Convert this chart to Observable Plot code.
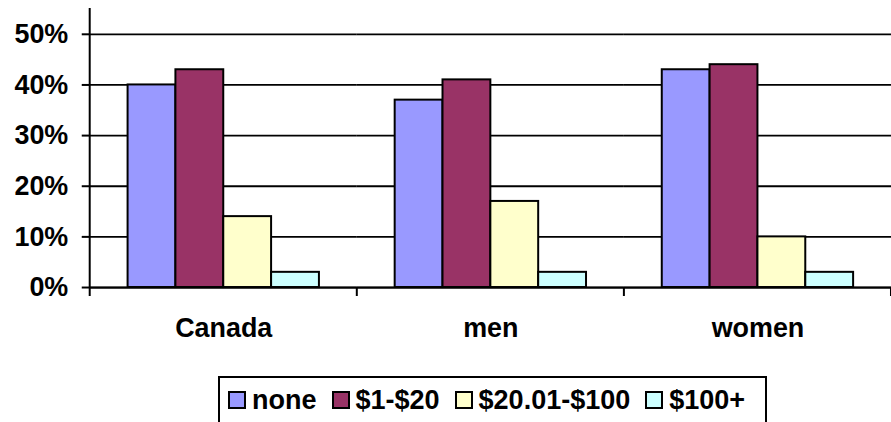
<!DOCTYPE html>
<html>
<head>
<meta charset="utf-8">
<script src="https://cdn.jsdelivr.net/npm/d3@7"></script>
<script src="https://cdn.jsdelivr.net/npm/@observablehq/plot@0.6"></script>
<style>
  html, body { margin: 0; padding: 0; background: #fff; }
  body { font-family: "Liberation Sans", Arial, sans-serif; width: 891px; height: 422px; overflow: hidden; }
  #chart { width: 891px; overflow: hidden; }
  #chart svg { display: block; }
  .legend {
    margin-left: 218px; margin-top: 17px;
    width: 545px; height: 60px;
    border: 2px solid #000; box-sizing: content-box;
    display: flex; align-items: flex-start; padding-top: 0;
    font-weight: bold; font-size: 27px; color: #000;
  }
  .legend .item { display: flex; align-items: center; margin-top: 7px; }
  .legend .sw { width: 14px; height: 14px; border: 2px solid #000; margin-right: 6px; }
</style>
</head>
<body>
<div id="chart"></div>
<script>
const categories = ["Canada", "men", "women"];
const series = ["none", "$1-$20", "$20.01-$100", "$100+"];
const valuesNone = [0.40, 0.37, 0.43];
const values1to20 = [0.43, 0.41, 0.44];
const values20to100 = [0.14, 0.17, 0.10];
const values100plus = [0.03, 0.03, 0.03];
const yTicks = [0, 0.1, 0.2, 0.3, 0.4, 0.5];
const colors = ["#9999FF", "#993366", "#FFFFCC", "#CCFFFF"];

const seriesValues = [valuesNone, values1to20, values20to100, values100plus];
const data = [];
categories.forEach((c, i) => {
  series.forEach((s, j) => data.push({category: c, series: s, value: seriesValues[j][i]}));
});

const font = "Liberation Sans, Arial, sans-serif";
const plot = Plot.plot({
  width: 894,
  height: 360,
  marginLeft: 90,
  marginRight: 0,
  marginTop: 8,
  marginBottom: 72,
  style: {fontFamily: font, color: "#000", background: "#fff"},
  fx: {domain: categories, padding: 0},
  x: {domain: series, paddingInner: 0, paddingOuter: 0.75, axis: null},
  y: {domain: [0, 0.551]},
  color: {domain: series, range: colors},
  marks: [
    Plot.gridY(yTicks, {stroke: "#000", strokeOpacity: 1, strokeWidth: 1.8}),
    Plot.barY(data, {fx: "category", x: "series", y: "value", fill: "series", stroke: "#000", strokeWidth: 2}),
    Plot.ruleY([0], {stroke: "#000", strokeWidth: 2}),
    Plot.axisY(yTicks, {tickFormat: d3.format(".0%"), tickSize: 8, tickPadding: 14, fontSize: 27, fontWeight: "bold", strokeWidth: 2, label: null}),
    Plot.axisFx({anchor: "bottom", tickSize: 0, tickPadding: 30, fontSize: 27, fontWeight: "bold", label: null})
  ]
});

// axis line and category boundary ticks, placed from the library's scales
const fx = plot.scale("fx");
const y = plot.scale("y");
const svg = d3.select(plot);
const y0 = y.apply(0);
const yTop = y.apply(y.domain[1]);
const left = fx.apply(categories[0]);
svg.append("line").attr("x1", left).attr("x2", left).attr("y1", yTop).attr("y2", y0 + 9)
  .attr("stroke", "#000").attr("stroke-width", 2);
categories.forEach(c => {
  const xb = fx.apply(c) + fx.bandwidth;
  svg.append("line").attr("x1", xb).attr("x2", xb).attr("y1", y0).attr("y2", y0 + 9)
    .attr("stroke", "#000").attr("stroke-width", 2);
});

document.getElementById("chart").appendChild(plot);

const legend = document.createElement("div");
legend.className = "legend";
series.forEach((s, j) => {
  const item = document.createElement("div");
  item.className = "item";
  item.style.marginLeft = j === 0 ? "8px" : "15px";
  const sw = document.createElement("span");
  sw.className = "sw";
  sw.style.background = colors[j];
  const t = document.createElement("span");
  t.textContent = s;
  item.appendChild(sw);
  item.appendChild(t);
  legend.appendChild(item);
});
document.body.appendChild(legend);
</script>
</body>
</html>
